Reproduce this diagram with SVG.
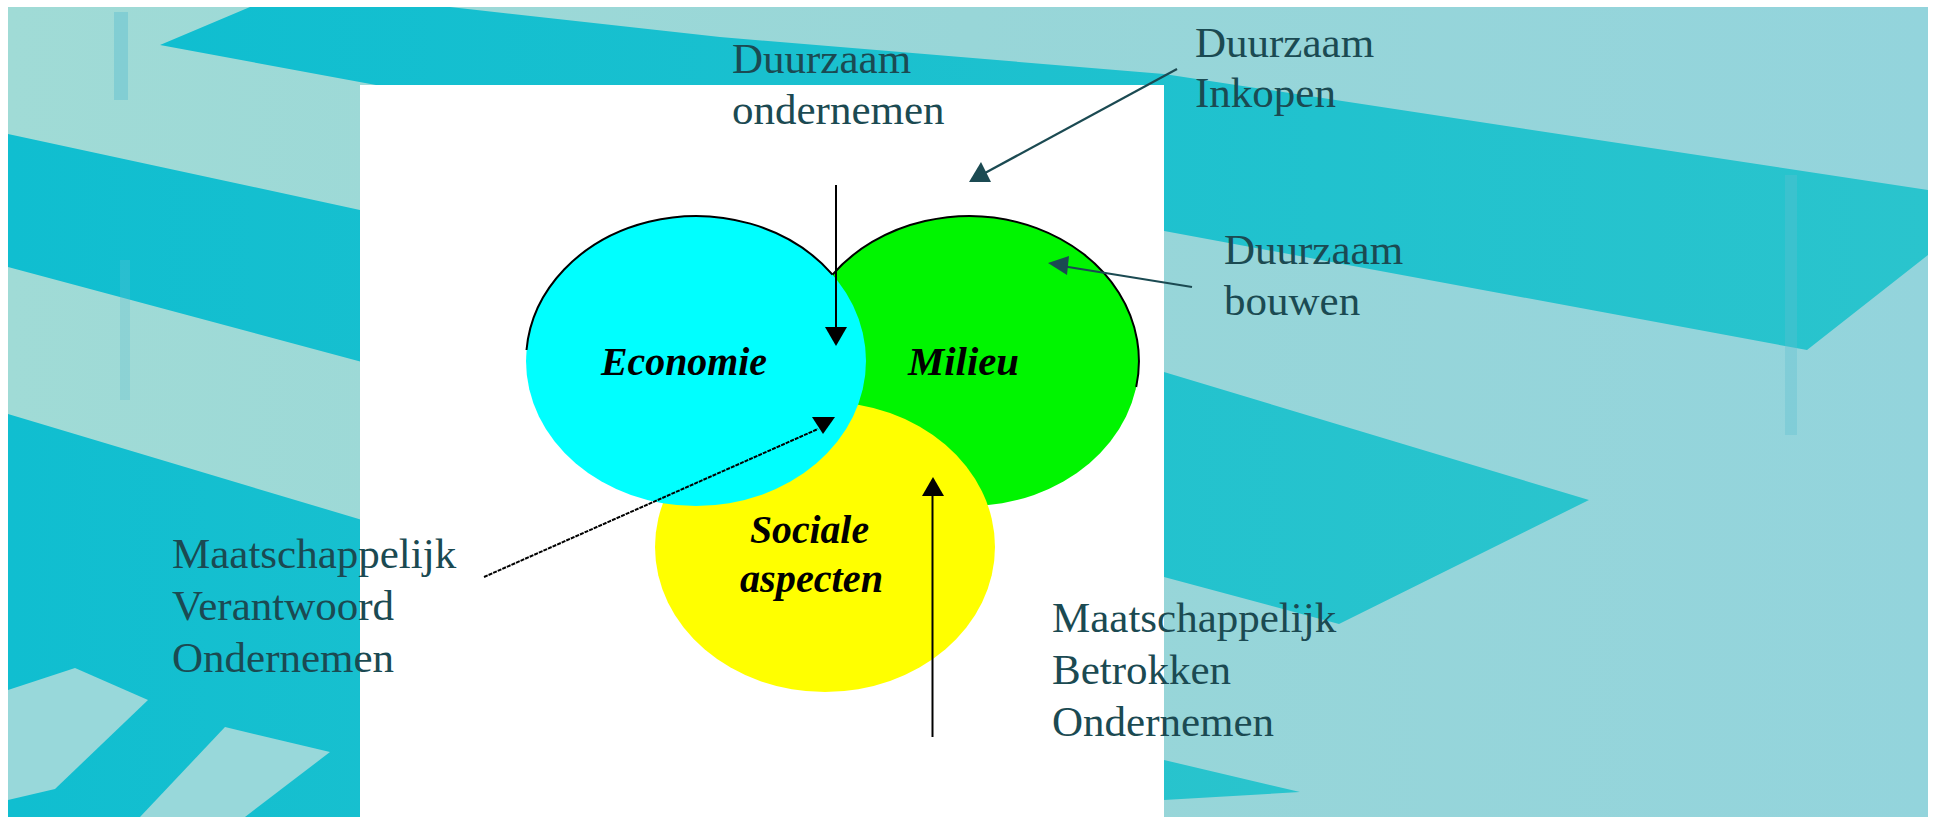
<svg xmlns="http://www.w3.org/2000/svg" width="1933" height="817" viewBox="0 0 1933 817">
  <style>
    .lbl { font-family: "Liberation Serif", "Times New Roman", serif; font-size: 43px; fill: #1b4a52; }
    .cl { font-family: "Liberation Serif", "Times New Roman", serif; font-size: 40px; font-style: italic; font-weight: bold; fill: #000; }
    .lite { fill: #98d8da; }
    .blk { stroke: #000; stroke-width: 2; fill: none; }
    .tl { stroke: #1b4a52; stroke-width: 2.2; fill: none; }
    .outline { stroke: #000; stroke-width: 2; fill: none; }
    .streak { fill: #5fbfd0; }
  </style>
  <defs>
    <linearGradient id="bgGrad" x1="0" y1="0" x2="1" y2="0">
      <stop offset="0" stop-color="#a0dbd6"/>
      <stop offset="0.5" stop-color="#98d6d8"/>
      <stop offset="1" stop-color="#93d4dc"/>
    </linearGradient>
    <linearGradient id="bandGrad" x1="0" y1="0" x2="1" y2="0">
      <stop offset="0" stop-color="#10bed0"/>
      <stop offset="1" stop-color="#2ac4cd"/>
    </linearGradient>
  </defs>

  <!-- background -->
  <g id="background">
    <rect x="0" y="0" width="1933" height="817" fill="#ffffff"/>
    <rect x="8" y="7" width="1920" height="810" fill="url(#bgGrad)"/>
    <polygon fill="url(#bandGrad)" points="160,45 250,7 450,7 720,37 1164,74 1928,190 1928,255 1807,350"/>
    <polygon fill="url(#bandGrad)" points="8,134 360,210 1164,372 1589,500 1339,624 8,267"/>
    <polygon fill="url(#bandGrad)" points="8,414 1164,760 1300,792 1164,800 1164,817 8,817"/>
    <polygon class="lite" points="8,690 75,668 148,700 55,789 8,800"/>
    <polygon class="lite" points="225,727 330,752 245,817 140,817"/>
    <rect class="streak" x="114" y="12" width="14" height="88" opacity="0.45"/>
    <rect class="streak" x="1785" y="175" width="12" height="260" opacity="0.35"/>
    <rect class="streak" x="120" y="260" width="10" height="140" opacity="0.3"/>
  </g>

  <!-- white panel -->
  <rect id="panel" x="360" y="85" width="804" height="732" fill="#ffffff"/>

  <!-- circles -->
  <g id="node-milieu">
    <ellipse cx="969" cy="361" rx="170" ry="145" fill="#00f500"/>
    <path class="outline" d="M832.5,274.6 A170,145 0 0 1 1136.2,387"/>
  </g>
  <g id="node-sociale">
    <ellipse cx="825" cy="547" rx="170" ry="145" fill="#ffff00"/>
  </g>
  <g id="node-economie">
    <ellipse cx="696" cy="361" rx="170" ry="145" fill="#00ffff"/>
    <path class="outline" d="M526.5,350 A170,145 0 0 1 832.5,274.6"/>
  </g>
  <g id="labels-circles">
    <text class="cl" x="601" y="375" textLength="166" lengthAdjust="spacingAndGlyphs">Economie</text>
    <text class="cl" x="908" y="375" textLength="111" lengthAdjust="spacingAndGlyphs">Milieu</text>
    <text class="cl" x="750" y="543" textLength="119" lengthAdjust="spacingAndGlyphs">Sociale</text>
    <text class="cl" x="740" y="592" textLength="143" lengthAdjust="spacingAndGlyphs">aspecten</text>
  </g>

  <!-- text nodes -->
  <g id="node-duurzaam-ondernemen">
    <text class="lbl" x="732" y="73">Duurzaam</text>
    <text class="lbl" x="732" y="124">ondernemen</text>
  </g>
  <g id="node-duurzaam-inkopen">
    <text class="lbl" x="1195" y="57">Duurzaam</text>
    <text class="lbl" x="1195" y="107">Inkopen</text>
  </g>
  <g id="node-duurzaam-bouwen">
    <text class="lbl" x="1224" y="264">Duurzaam</text>
    <text class="lbl" x="1224" y="315">bouwen</text>
  </g>
  <g id="node-mvo">
    <text class="lbl" x="172" y="568">Maatschappelijk</text>
    <text class="lbl" x="172" y="620">Verantwoord</text>
    <text class="lbl" x="172" y="672">Ondernemen</text>
  </g>
  <g id="node-mbo">
    <text class="lbl" x="1052" y="632">Maatschappelijk</text>
    <text class="lbl" x="1052" y="684">Betrokken</text>
    <text class="lbl" x="1052" y="736">Ondernemen</text>
  </g>

  <!-- connectors -->
  <g id="connectors">
    <line class="blk" x1="836" y1="185" x2="836" y2="330"/>
    <polygon fill="#000" points="825,327 847,327 836,346"/>

    <line class="tl" x1="1177" y1="69" x2="985" y2="173"/>
    <polygon fill="#1b4a52" points="969,182 991,182 981,162"/>

    <line class="tl" x1="1192" y1="287" x2="1062" y2="266"/>
    <polygon fill="#1b4a52" points="1048,263 1069,256 1067,275"/>

    <line class="blk" x1="484" y1="577" x2="818" y2="429" stroke-width="2.4" stroke-dasharray="4 1"/>
    <polygon fill="#000" points="812,417 835,417 823,434"/>

    <line class="blk" x1="932.5" y1="737" x2="932.5" y2="492"/>
    <polygon fill="#000" points="922,496 944,496 933,477"/>
  </g>
</svg>
